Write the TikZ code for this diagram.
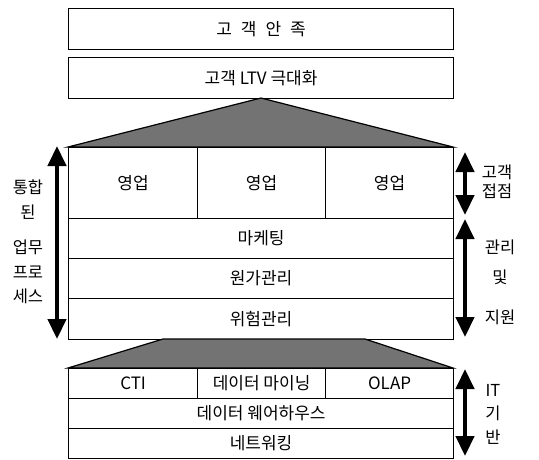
\documentclass[tikz,border=0pt]{standalone}
\usepackage{fontspec}
\setmainfont{Noto Sans CJK KR}
\usetikzlibrary{arrows.meta}
\tikzset{
  box/.style={draw=black, line width=1.2pt, fill=white, inner sep=0pt, anchor=north west,
    font=\fontsize{17}{19}\selectfont},
  shade/.style={draw=black, line width=1.2pt, fill=black!55},
  bigarrow/.style={line width=4.5pt, {Triangle[width=18pt,length=20pt]}-{Triangle[width=18pt,length=20pt]}},
  sidetext/.style={inner sep=0pt, font=\fontsize{16.5}{18}\selectfont}
}
\begin{document}
\begin{tikzpicture}[x=1pt,y=-1pt]
\useasboundingbox (0,0) rectangle (539,459);
% top boxes
\node[box, minimum width=385pt, minimum height=41pt] (goal) at (68,8) {{\spaceskip=9pt 고 객 안 족}};
\node[box, minimum width=385pt, minimum height=41pt] (ltv) at (68,57) {고객 LTV 극대화};
% triangle
\coordinate (apex) at (261,98);
\coordinate (triL) at (68,147);
\coordinate (triR) at (453,147);
\filldraw[shade] (apex) -- (triR) -- (triL) -- cycle;
% middle block
\node[box, minimum width=129pt, minimum height=71pt] (sales1) at (68,147) {영업};
\node[box, minimum width=128pt, minimum height=71pt] (sales2) at (197,147) {영업};
\node[box, minimum width=128pt, minimum height=71pt] (sales3) at (325,147) {영업};
\node[box, minimum width=385pt, minimum height=40pt] (mkt) at (68,218) {마케팅};
\node[box, minimum width=385pt, minimum height=40pt] (cost) at (68,258) {원가관리};
\node[box, minimum width=385pt, minimum height=41pt] (risk) at (68,298) {위험관리};
% trapezoid
\coordinate (tzA) at (163,339);
\coordinate (tzB) at (365,339);
\coordinate (tzC) at (453,368);
\coordinate (tzD) at (68,368);
\filldraw[shade] (tzA) -- (tzB) -- (tzC) -- (tzD) -- cycle;
% bottom block
\node[box, minimum width=129pt, minimum height=30pt] (cti) at (68,368) {CTI};
\node[box, minimum width=128pt, minimum height=30pt] (dm) at (197,368) {데이터 마이닝};
\node[box, minimum width=128pt, minimum height=30pt] (olap) at (325,368) {OLAP};
\node[box, minimum width=385pt, minimum height=30pt] (dw) at (68,398) {데이터 웨어하우스};
\node[box, minimum width=385pt, minimum height=30pt] (net) at (68,428) {네트워킹};
% left arrow
\coordinate (la1) at (57,146);
\coordinate (la2) at (57,339);
\draw[bigarrow] (la1) -- (la2);
\node[sidetext] (l1) at (28,187) {통합};
\node[sidetext] (l2) at (28,212) {된};
\node[sidetext] (l3) at (28,247) {업무};
\node[sidetext] (l4) at (28,272) {프로};
\node[sidetext] (l5) at (28,296) {세스};
% right arrows
\coordinate (ra1) at (465,152);
\coordinate (ra2) at (465,215);
\coordinate (rb1) at (465,219);
\coordinate (rb2) at (465,337);
\coordinate (rc1) at (465,369);
\coordinate (rc2) at (465,456);
\draw[bigarrow] (ra1) -- (ra2);
\draw[bigarrow] (rb1) -- (rb2);
\draw[bigarrow] (rc1) -- (rc2);
\node[sidetext] (r1) at (497,172) {고객};
\node[sidetext] (r2) at (497,191) {접점};
\node[sidetext] (r3) at (500,247) {관리};
\node[sidetext] (r4) at (500,277) {및};
\node[sidetext] (r5) at (500,317) {지원};
\node[sidetext] (r6) at (493,390) {IT};
\node[sidetext] (r7) at (493,413) {기};
\node[sidetext] (r8) at (493,437) {반};
\end{tikzpicture}
\end{document}
